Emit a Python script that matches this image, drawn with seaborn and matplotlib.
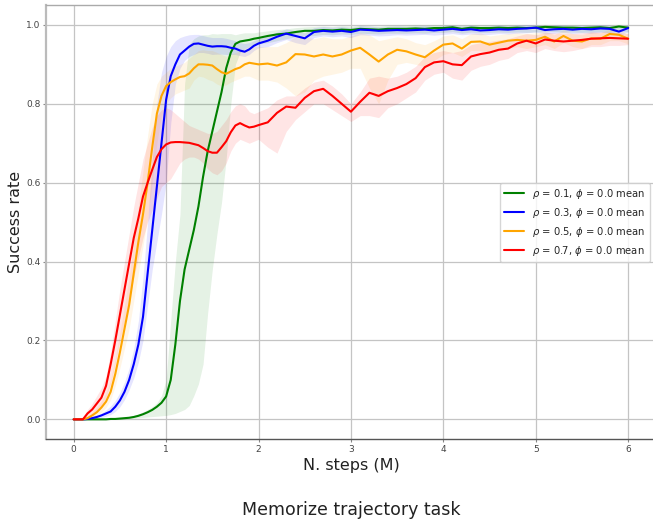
import numpy as np
import pandas as pd
import matplotlib
matplotlib.use("Agg")
import matplotlib.pyplot as plt
import seaborn as sns

# steps (millions): 0.05 spacing up to 2.0, then 0.1 spacing
steps = [round(0.05 * i, 2) for i in range(41)] + [round(2.0 + 0.1 * i, 1) for i in range(1, 41)]

labels = [r'$\rho$ = 0.1, $\phi$ = 0.0 mean',
          r'$\rho$ = 0.3, $\phi$ = 0.0 mean',
          r'$\rho$ = 0.5, $\phi$ = 0.0 mean',
          r'$\rho$ = 0.7, $\phi$ = 0.0 mean']
colors = ['green', 'blue', 'orange', 'red']

# rho = 0.1
g_mean = [0, 0, 0, 0, 0, 0, 0, 0, 0.001, 0.001, 0.002, 0.003, 0.004, 0.006, 0.009, 0.013, 0.018, 0.024, 0.032, 0.042,
          0.058, 0.10, 0.19, 0.30, 0.38, 0.43, 0.48, 0.54, 0.615, 0.68, 0.73, 0.78, 0.83, 0.89, 0.93, 0.952, 0.958, 0.96, 0.962, 0.965,
          0.967, 0.972, 0.976, 0.978, 0.982, 0.985, 0.985, 0.987, 0.986, 0.988, 0.987, 0.99, 0.989, 0.988, 0.99, 0.99, 0.99, 0.991, 0.99, 0.992,
          0.992, 0.994, 0.99, 0.993, 0.992, 0.992, 0.993, 0.992, 0.993, 0.992, 0.993, 0.995, 0.994, 0.993, 0.993, 0.992, 0.993, 0.994, 0.992, 0.996, 0.993]
g_low = [0, 0, 0, 0, 0, 0, 0, 0, 0, 0, 0, 0.001, 0.002, 0.003, 0.004, 0.005, 0.006, 0.007, 0.008, 0.009,
         0.01, 0.012, 0.015, 0.02, 0.025, 0.035, 0.06, 0.09, 0.14, 0.27, 0.38, 0.47, 0.55, 0.66, 0.80, 0.90, 0.93, 0.94, 0.945, 0.95,
         0.952, 0.955, 0.96, 0.965, 0.97, 0.972, 0.973, 0.976, 0.975, 0.977, 0.976, 0.979, 0.978, 0.977, 0.979, 0.979, 0.979, 0.98, 0.979, 0.981,
         0.981, 0.983, 0.979, 0.982, 0.981, 0.981, 0.982, 0.981, 0.982, 0.981, 0.982, 0.984, 0.983, 0.982, 0.982, 0.981, 0.982, 0.983, 0.981, 0.985, 0.982]
g_high = [0, 0, 0, 0, 0, 0, 0, 0, 0, 0, 0.003, 0.005, 0.007, 0.01, 0.014, 0.019, 0.025, 0.032, 0.042, 0.06,
          0.1, 0.25, 0.4, 0.52, 0.85, 0.95, 0.965, 0.972, 0.975, 0.975, 0.978, 0.977, 0.978, 0.978, 0.978, 0.975, 0.978, 0.98, 0.98, 0.98,
          0.982, 0.985, 0.988, 0.99, 0.993, 0.995, 0.996, 0.997, 0.996, 0.998, 0.997, 0.999, 0.998, 0.997, 0.999, 0.999, 0.999, 1.0, 0.999, 1.0,
          1.0, 1.0, 0.999, 1.0, 1.0, 1.0, 1.0, 1.0, 1.0, 1.0, 1.0, 1.0, 1.0, 1.0, 1.0, 1.0, 1.0, 1.0, 1.0, 1.0, 1.0]

# rho = 0.3
b_mean = [0, 0, 0, 0.001, 0.003, 0.006, 0.01, 0.015, 0.02, 0.032, 0.048, 0.07, 0.1, 0.14, 0.19, 0.26, 0.37, 0.48, 0.59, 0.70,
          0.81, 0.87, 0.9, 0.925, 0.935, 0.945, 0.952, 0.953, 0.95, 0.947, 0.945, 0.946, 0.946, 0.945, 0.942, 0.94, 0.935, 0.932, 0.938, 0.947,
          0.953, 0.96, 0.97, 0.978, 0.972, 0.966, 0.982, 0.985, 0.983, 0.985, 0.982, 0.988, 0.987, 0.985, 0.986, 0.987, 0.986, 0.987, 0.988, 0.986,
          0.988, 0.99, 0.987, 0.989, 0.986, 0.987, 0.989, 0.988, 0.99, 0.991, 0.993, 0.987, 0.989, 0.99, 0.988, 0.99, 0.989, 0.991, 0.99, 0.983, 0.992]
b_low = [0, 0, 0, 0, 0.001, 0.003, 0.005, 0.008, 0.012, 0.02, 0.032, 0.05, 0.075, 0.105, 0.145, 0.2, 0.29, 0.38, 0.45, 0.52,
         0.6, 0.75, 0.85, 0.89, 0.91, 0.92, 0.925, 0.93, 0.93, 0.928, 0.925, 0.926, 0.926, 0.925, 0.925, 0.925, 0.922, 0.92, 0.925, 0.935,
         0.942, 0.945, 0.955, 0.963, 0.955, 0.95, 0.968, 0.972, 0.97, 0.972, 0.968, 0.975, 0.974, 0.972, 0.973, 0.975, 0.974, 0.975, 0.976, 0.974,
         0.976, 0.978, 0.975, 0.977, 0.975, 0.976, 0.978, 0.977, 0.979, 0.98, 0.982, 0.977, 0.979, 0.98, 0.978, 0.98, 0.979, 0.981, 0.98, 0.973, 0.983]
b_high = [0, 0, 0.001, 0.003, 0.006, 0.01, 0.016, 0.024, 0.034, 0.048, 0.068, 0.095, 0.13, 0.18, 0.25, 0.36, 0.5, 0.66, 0.8, 0.88,
          0.92, 0.945, 0.96, 0.968, 0.972, 0.975, 0.976, 0.976, 0.973, 0.97, 0.968, 0.968, 0.968, 0.966, 0.963, 0.96, 0.955, 0.953, 0.955, 0.96,
          0.965, 0.972, 0.982, 0.99, 0.985, 0.98, 0.993, 0.996, 0.994, 0.996, 0.993, 0.998, 0.997, 0.995, 0.996, 0.997, 0.996, 0.997, 0.998, 0.996,
          0.998, 0.999, 0.997, 0.999, 0.996, 0.997, 0.999, 0.998, 0.999, 1.0, 1.0, 0.997, 0.999, 0.999, 0.998, 0.999, 0.999, 1.0, 0.999, 0.993, 1.0]

# rho = 0.5
o_mean = [0, 0, 0, 0.003, 0.01, 0.018, 0.03, 0.045, 0.07, 0.115, 0.17, 0.23, 0.29, 0.37, 0.45, 0.52, 0.6, 0.69, 0.775, 0.82,
          0.845, 0.855, 0.862, 0.868, 0.87, 0.877, 0.89, 0.9, 0.9, 0.899, 0.897, 0.888, 0.88, 0.876, 0.882, 0.888, 0.892, 0.9, 0.904, 0.902,
          0.9, 0.902, 0.897, 0.905, 0.926, 0.925, 0.92, 0.925, 0.92, 0.925, 0.935, 0.942, 0.925, 0.907, 0.925, 0.937, 0.933, 0.925, 0.918, 0.935,
          0.95, 0.953, 0.94, 0.957, 0.958, 0.95, 0.955, 0.96, 0.962, 0.96, 0.962, 0.97, 0.958, 0.972, 0.96, 0.958, 0.966, 0.965, 0.977, 0.975, 0.965]
o_low = [0, 0, 0, 0, 0.004, 0.01, 0.018, 0.03, 0.05, 0.085, 0.13, 0.18, 0.23, 0.3, 0.37, 0.44, 0.51, 0.6, 0.7, 0.77,
         0.8, 0.815, 0.825, 0.83, 0.835, 0.84, 0.86, 0.87, 0.868, 0.862, 0.858, 0.85, 0.845, 0.848, 0.855, 0.86, 0.865, 0.87, 0.87, 0.865,
         0.86, 0.86, 0.855, 0.84, 0.82, 0.83, 0.86, 0.87, 0.875, 0.88, 0.89, 0.89, 0.84, 0.8, 0.86, 0.9, 0.905, 0.9, 0.895, 0.91,
         0.925, 0.93, 0.92, 0.935, 0.935, 0.93, 0.935, 0.94, 0.945, 0.94, 0.945, 0.95, 0.94, 0.955, 0.945, 0.94, 0.95, 0.95, 0.96, 0.96, 0.952]
o_high = [0, 0.001, 0.003, 0.008, 0.018, 0.03, 0.046, 0.068, 0.1, 0.155, 0.22, 0.29, 0.36, 0.45, 0.54, 0.63, 0.72, 0.8, 0.85, 0.87,
          0.88, 0.89, 0.895, 0.9, 0.905, 0.915, 0.925, 0.935, 0.937, 0.935, 0.935, 0.93, 0.925, 0.92, 0.925, 0.93, 0.935, 0.94, 0.945, 0.945,
          0.945, 0.945, 0.945, 0.955, 0.97, 0.97, 0.965, 0.97, 0.965, 0.965, 0.972, 0.98, 0.975, 0.96, 0.965, 0.97, 0.965, 0.955, 0.95, 0.96,
          0.972, 0.975, 0.965, 0.978, 0.98, 0.972, 0.975, 0.978, 0.98, 0.978, 0.98, 0.985, 0.975, 0.988, 0.978, 0.975, 0.982, 0.98, 0.99, 0.988, 0.978]

# rho = 0.7
r_mean = [0, 0, 0, 0.015, 0.025, 0.04, 0.055, 0.085, 0.14, 0.2, 0.265, 0.33, 0.395, 0.46, 0.51, 0.565, 0.6, 0.633, 0.665, 0.685,
          0.697, 0.702, 0.703, 0.703, 0.702, 0.701, 0.698, 0.695, 0.688, 0.68, 0.676, 0.676, 0.69, 0.705, 0.728, 0.745, 0.751, 0.745, 0.74, 0.742,
          0.746, 0.753, 0.777, 0.793, 0.79, 0.815, 0.832, 0.838, 0.82, 0.8, 0.78, 0.805, 0.828, 0.82, 0.832, 0.84, 0.85, 0.865, 0.893, 0.905,
          0.908, 0.9, 0.898, 0.92, 0.926, 0.93, 0.937, 0.94, 0.953, 0.96, 0.953, 0.963, 0.96, 0.958, 0.96, 0.962, 0.965, 0.966, 0.967, 0.966, 0.965]
r_low = [0, 0, 0, 0.005, 0.012, 0.022, 0.035, 0.055, 0.09, 0.14, 0.2, 0.25, 0.3, 0.36, 0.41, 0.46, 0.5, 0.53, 0.56, 0.59,
         0.6, 0.61, 0.63, 0.65, 0.66, 0.665, 0.665, 0.66, 0.65, 0.635, 0.625, 0.62, 0.63, 0.65, 0.68, 0.7, 0.71, 0.705, 0.7, 0.705,
         0.71, 0.69, 0.675, 0.73, 0.76, 0.78, 0.8, 0.8, 0.785, 0.77, 0.755, 0.77, 0.77, 0.765, 0.79, 0.8, 0.815, 0.83, 0.86, 0.875,
         0.88, 0.865, 0.86, 0.885, 0.895, 0.9, 0.91, 0.915, 0.93, 0.935, 0.93, 0.94, 0.935, 0.932, 0.935, 0.94, 0.945, 0.945, 0.948, 0.948, 0.95]
r_high = [0, 0.002, 0.006, 0.025, 0.04, 0.06, 0.08, 0.11, 0.17, 0.25, 0.33, 0.4, 0.47, 0.54, 0.6, 0.66, 0.7, 0.74, 0.77, 0.785,
          0.79, 0.785, 0.775, 0.765, 0.755, 0.745, 0.74, 0.735, 0.73, 0.725, 0.725, 0.73, 0.745, 0.76, 0.78, 0.795, 0.8, 0.795, 0.78, 0.775,
          0.78, 0.79, 0.81, 0.82, 0.82, 0.84, 0.855, 0.86, 0.845, 0.825, 0.8, 0.83, 0.865, 0.87, 0.865, 0.87, 0.88, 0.895, 0.92, 0.93,
          0.935, 0.93, 0.935, 0.95, 0.955, 0.958, 0.962, 0.965, 0.972, 0.978, 0.975, 0.98, 0.98, 0.978, 0.978, 0.98, 0.982, 0.982, 0.982, 0.98, 0.978]

means = [g_mean, b_mean, o_mean, r_mean]
lows = [g_low, b_low, o_low, r_low]
highs = [g_high, b_high, o_high, r_high]

df = pd.concat([pd.DataFrame({'steps': steps, 'success': m, 'lo': lo, 'hi': hi, 'run': lab})
                for m, lo, hi, lab in zip(means, lows, highs, labels)], ignore_index=True)

sns.set_style('whitegrid')
fig = plt.figure(figsize=(6.53, 5.19), dpi=100)
ax = fig.add_axes([0.0704, 0.154, 0.934, 0.836])

# shaded spread for each run
for lab, col in zip(labels, colors):
    sub = df[df['run'] == lab]
    ax.fill_between(sub['steps'], sub['lo'], sub['hi'], color=col, alpha=0.1, linewidth=0)

sns.lineplot(data=df, x='steps', y='success', hue='run', hue_order=labels,
             palette=dict(zip(labels, colors)), errorbar=None, linewidth=1.5, ax=ax)

ax.set_xlim(-0.3, 6.3)
ax.set_ylim(-0.05, 1.05)
ax.set_xticks(range(7))
ax.set_yticks([0.0, 0.2, 0.4, 0.6, 0.8, 1.0])
ax.grid(True, color='#c4c4c4', linewidth=0.9)
ax.tick_params(axis='both', bottom=True, left=True, labelsize=6.5, labelcolor='#444444',
               color='#888888', length=2.5, width=0.8, pad=1.5)

ax.spines['left'].set_color('#bbbbbb')
ax.spines['left'].set_linewidth(1.6)
ax.spines['top'].set_color('#aaaaaa')
ax.spines['top'].set_linewidth(1.0)
ax.spines['bottom'].set_color('#555555')
ax.spines['bottom'].set_linewidth(1.0)
ax.spines['right'].set_visible(False)

ax.set_xlabel('N. steps (M)', fontsize=11.5, color='#222222', labelpad=3)
ax.set_ylabel('Success rate', fontsize=11.5, color='#222222', labelpad=2)

ax.legend(loc='center right', bbox_to_anchor=(0.998, 0.5), fontsize=7.2, title=None,
          frameon=True, framealpha=0.8, handlelength=2.0)

# task name centred under the axes
fig.text(0.0704 + 0.934 / 2, 0.0, 'Memorize trajectory task', ha='center', va='bottom',
         fontsize=12.5, color='#222222')

fig.savefig('out.png', dpi=100)
